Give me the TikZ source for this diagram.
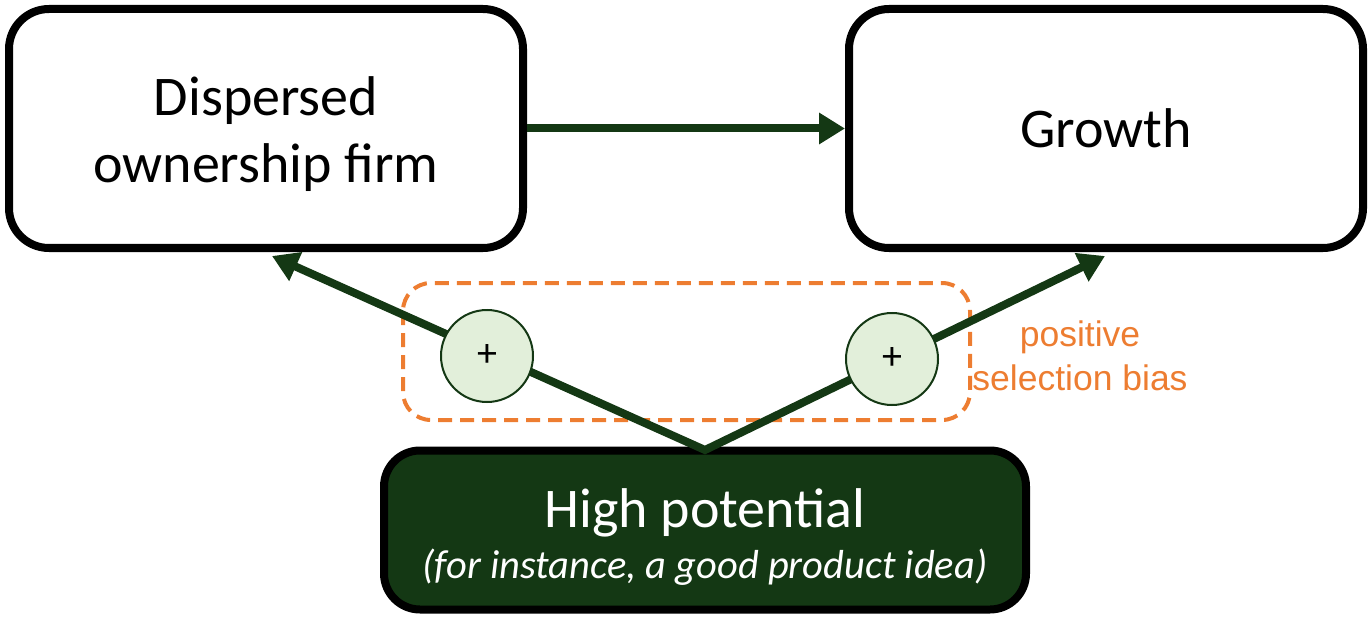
\documentclass[tikz,border=0pt]{standalone}
\usepackage{fontspec}
\setmainfont{Carlito}
\newfontfamily\arialf{Liberation Sans}
\usetikzlibrary{arrows.meta}
\definecolor{dkgreen}{HTML}{143814}
\definecolor{ltgreen}{HTML}{E2EFDA}
\definecolor{orng}{HTML}{ED7D31}
\tikzset{
  whitebox/.style={draw=black, line width=8pt, rounded corners=40pt, fill=white,
    minimum width=514pt, minimum height=239pt, align=center, inner sep=0pt,
    font=\fontsize{56}{67}\selectfont},
  greenbox/.style={draw=black, line width=8pt, rounded corners=36pt, fill=dkgreen,
    minimum width=642pt, minimum height=159pt, inner sep=0pt},
  plus/.style={circle, draw=dkgreen, line width=2pt, fill=ltgreen, minimum size=92pt,
    inner sep=0pt, font=\fontsize{40}{40}\selectfont},
  conn/.style={draw=dkgreen, line width=8pt, -{Triangle[length=26pt,width=30pt]}},
  biasbox/.style={draw=orng, line width=4pt, dash pattern=on 14pt off 8pt, rounded corners=28pt}
}
\begin{document}
\begin{tikzpicture}[x=1pt,y=-1pt]
\useasboundingbox (0,0) rectangle (1372,620);
\node[whitebox] (disp) at (266,128.5) {};
\node[align=center, font=\fontsize{56}{67}\selectfont] (dispt) at (266,134) {Dispersed\\ownership firm};
\node[whitebox] (growth) at (1106,128.5) {Growth};
\node[greenbox] (hp) at (705,530) {};
\node[anchor=base, text=white, font=\fontsize{56}{56}\selectfont] (hpt) at (705,527) {High potential};
\node[anchor=base, text=white, font=\fontsize{40.5}{40.5}\selectfont\itshape] (hps) at (705,578) {(for instance, a good product idea)};
\coordinate (apex) at (705,450);
\coordinate (ltip) at (272,256);
\coordinate (rtip) at (1105,256);
\draw[biasbox] (403,283) rectangle (970,420);
\draw[conn, {Triangle[length=26pt,width=30pt]}-{Triangle[length=26pt,width=30pt]}, line join=miter] (ltip) -- (apex) -- (rtip);
\draw[conn] (disp.east) -- (growth.west);
\node[plus] (c1) at (487,356) {+};
\node[plus] (c2) at (892,359) {+};
\node[text=orng, align=center, font=\arialf\fontsize{35.5}{44}\selectfont] (bias) at (1080,356) {positive\\selection bias};
\end{tikzpicture}
\end{document}
